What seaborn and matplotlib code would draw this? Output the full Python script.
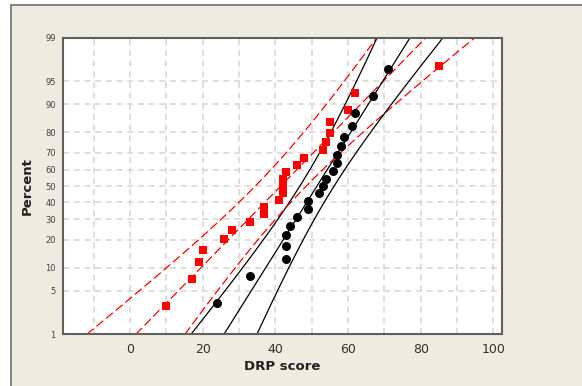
import numpy as np
import pandas as pd
import matplotlib
matplotlib.use("Agg")
import matplotlib.pyplot as plt
from matplotlib.patches import Rectangle
from matplotlib.ticker import MultipleLocator, FixedLocator
import seaborn as sns
from statistics import NormalDist

# --- data: DRP scores ---
treatment = [24, 43, 58, 71, 43, 49, 61, 44, 67, 49, 53, 56, 59, 52, 62, 54, 57, 33, 46, 43, 57]
control = [42, 43, 55, 26, 62, 37, 33, 41, 19, 54, 20, 85, 46, 10, 17, 60, 53, 42, 37, 42, 55, 28, 48]
percent_ticks = [1, 5, 10, 20, 30, 40, 50, 60, 70, 80, 90, 95, 99]
x_ticks = [0, 20, 40, 60, 80, 100]

ND = NormalDist()
z = lambda p: ND.inv_cdf(p)

sns.set_style("white")
plt.rcParams['font.family'] = ['DejaVu Sans']

W, H = 582, 386
fig = plt.figure(figsize=(W / 100, H / 100), dpi=100, facecolor="white")
BEIGE = "#EEEBE1"
fig.patches.append(Rectangle((11 / W, -0.1), 1.2, 1.1 - 5 / H + 0.0, transform=fig.transFigure,
                             facecolor=BEIGE, edgecolor="#707070", linewidth=1.2, zorder=-10))

left, right, top, bottom = 62.7, 501.7, 37.7, 334.3
ax = fig.add_axes([left / W, (H - bottom) / H, (right - left) / W, (bottom - top) / H])
ax.set_facecolor("white")

zlo, zhi = z(0.01), z(0.99)
zgrid = np.linspace(zlo, zhi, 200)

def make_frames(data, name):
    d = np.sort(np.asarray(data, dtype=float))
    n = len(d)
    ranks = np.arange(1, n + 1)
    pp = (ranks - 0.3) / (n + 0.4)
    pts = pd.DataFrame({"x": d, "z": [z(p) for p in pp], "group": name})
    mu, s = d.mean(), d.std(ddof=1)
    fit = mu + zgrid * s
    se = s * np.sqrt((1 + zgrid ** 2 / 2) / n)
    lines = pd.DataFrame({"fit": fit, "lo": fit - 1.96 * se, "hi": fit + 1.96 * se, "z": zgrid})
    return pts, lines

pts_c, lines_c = make_frames(control, "Control")
pts_t, lines_t = make_frames(treatment, "Treatment")

# grid
ax.set_xlim(-18.5, 102.3)
ax.set_ylim(zlo, zhi)
ax.xaxis.set_major_locator(FixedLocator(x_ticks))
ax.xaxis.set_minor_locator(MultipleLocator(10))
ax.yaxis.set_major_locator(FixedLocator([z(p / 100) for p in percent_ticks]))
ax.set_yticklabels([str(p) for p in percent_ticks])
ax.set_xticklabels([str(t) for t in x_ticks])
ax.grid(True, which="both", axis="x", color="#D4D4D4", linestyle=(0, (4, 3)), linewidth=1.1)
ax.grid(True, which="major", axis="y", color="#D4D4D4", linestyle=(0, (4, 3)), linewidth=1.1)
ax.set_axisbelow(True)

dash = (0, (7, 3))
for col in ["fit", "lo", "hi"]:
    sns.lineplot(data=lines_c, x=col, y="z", sort=False, estimator=None, color="#FF0000",
                 linestyle=dash, linewidth=0.9, ax=ax)
    sns.lineplot(data=lines_t, x=col, y="z", sort=False, estimator=None, color="black",
                 linewidth=0.9, ax=ax)

sns.scatterplot(data=pts_c, x="x", y="z", marker="s", color="#FF0000", s=36, linewidth=0, ax=ax, zorder=5)
sns.scatterplot(data=pts_t, x="x", y="z", marker="o", color="black", s=42, linewidth=0, ax=ax, zorder=5)

for sp in ax.spines.values():
    sp.set_color("#606060")
    sp.set_linewidth(1.5)

ax.tick_params(axis="x", which="major", length=4, width=1, color="#606060", labelsize=9, labelcolor="#303030", pad=2)
ax.tick_params(axis="x", which="minor", length=0)
ax.tick_params(axis="y", which="major", length=4, width=1, color="#606060", labelsize=6, labelcolor="#404040", pad=1)

ax.set_xlabel("DRP score", fontsize=9.5, fontweight="bold", color="#202020", labelpad=3)
ax.set_ylabel("Percent", fontsize=9.5, fontweight="bold", color="#202020", labelpad=8)

fig.savefig("out.png", dpi=100, facecolor=fig.get_facecolor())
